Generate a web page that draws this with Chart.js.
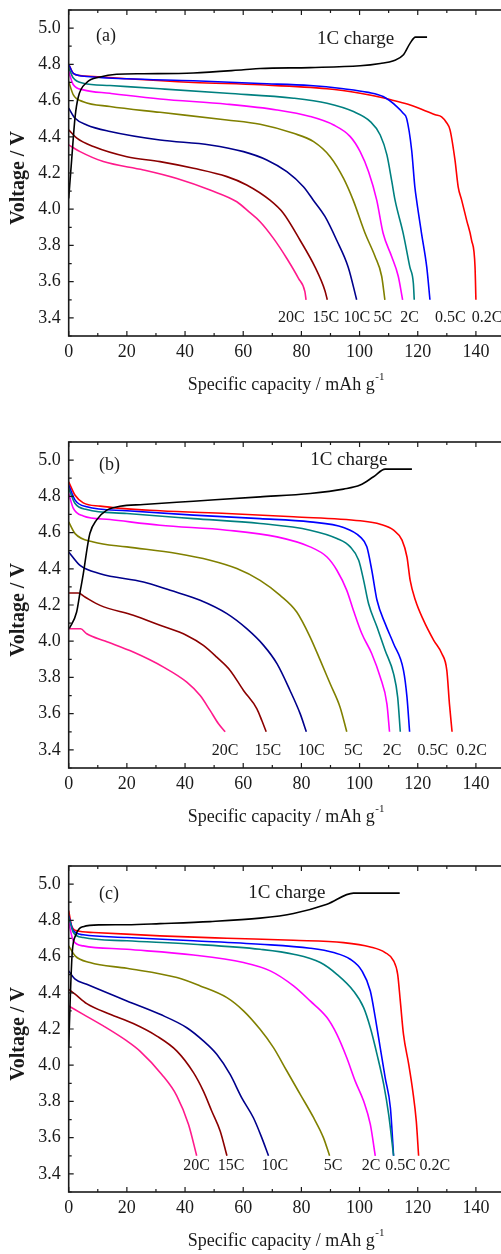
<!DOCTYPE html>
<html>
<head>
<meta charset="utf-8">
<script src="https://cdn.jsdelivr.net/npm/chart.js@4.4.1/dist/chart.umd.min.js"></script>
<style>
  html, body { margin: 0; padding: 0; background: #fff; }
  body { width: 501px; height: 1254px; overflow: hidden; position: relative; }
  .panel { position: absolute; left: 0; width: 506px; height: 426px; }
</style>
</head>
<body>
<div class="panel" style="top:0px"><canvas id="chartA" width="506" height="426"></canvas></div>
<div class="panel" style="top:432px"><canvas id="chartB" width="506" height="426"></canvas></div>
<div class="panel" style="top:856px"><canvas id="chartC" width="506" height="426"></canvas></div>
<script>
// axis ticks (minor every 10 / 0.1, labelled every 20 / 0.2)
const X_TICKS = [0, 10, 20, 30, 40, 50, 60, 70, 80, 90, 100, 110, 120, 130, 140, 150];
const Y_TICKS = [3.3, 3.4, 3.5, 3.6, 3.7, 3.8, 3.9, 4.0, 4.1, 4.2, 4.3, 4.4, 4.5, 4.6, 4.7, 4.8, 4.9, 5.0, 5.1];
const RATE_LABELS = ['20C', '15C', '10C', '5C', '2C', '0.5C', '0.2C'];

// ---- (a) [capacity mAh/g, voltage V]
const aCharge = [[0,4.06],[1.0,4.27],[2.2,4.51],[3.3,4.62],[6.2,4.70],[10.8,4.73],[16.5,4.745],[25.7,4.748],[42.9,4.752],[60.1,4.77],[65.8,4.777],[83,4.782],[100.2,4.792],[107.1,4.805],[111.7,4.82],[115.1,4.853],[117.4,4.917],[119.2,4.95],[123.2,4.95]];
const a02C = [[0,4.80],[1.6,4.75],[3.9,4.738],[8.5,4.733],[20,4.72],[42.9,4.70],[65.8,4.687],[88.8,4.665],[100.2,4.64],[108,4.615],[111.7,4.60],[117.4,4.576],[123.2,4.54],[126,4.522],[128.2,4.51],[129.8,4.48],[131.1,4.438],[132.8,4.272],[133.9,4.124],[135.1,4.05],[136.8,3.94],[138.5,3.83],[139.7,3.68],[140,3.5]];
const a05C = [[0,4.80],[1.6,4.75],[6.2,4.733],[20,4.72],[42.9,4.709],[65.8,4.694],[83,4.683],[94.5,4.665],[103,4.645],[108.1,4.622],[112.8,4.567],[115,4.53],[116.2,4.50],[117.9,4.327],[119,4.124],[119.6,4.05],[121.3,3.867],[123.1,3.68],[124.2,3.5]];
const a1C = [[0,4.78],[1.6,4.724],[5,4.696],[14.2,4.683],[31.4,4.665],[54.4,4.64],[77.3,4.613],[88.8,4.585],[97.9,4.539],[103.7,4.484],[107.1,4.41],[109.4,4.30],[111.1,4.152],[112.2,4.05],[115,3.867],[117.3,3.68],[118.5,3.59],[118.8,3.5]];
const a2C = [[0,4.76],[1.6,4.687],[5,4.659],[14.2,4.64],[31.4,4.609],[54.4,4.58],[71.6,4.548],[83,4.512],[91.1,4.465],[96.8,4.401],[100.2,4.318],[103.1,4.207],[105.9,4.05],[108.1,3.867],[111,3.74],[113.3,3.63],[114.8,3.5]];
const a5C = [[0,4.705],[1.6,4.631],[5,4.594],[14.2,4.567],[31.4,4.535],[54.4,4.493],[65.8,4.469],[77.3,4.419],[84.2,4.373],[89.9,4.29],[94.5,4.17],[97.8,4.05],[101.9,3.867],[105.3,3.74],[107.6,3.63],[108.7,3.5]];
const a10C = [[0,4.558],[2.2,4.502],[6.2,4.465],[14.2,4.429],[31.4,4.382],[48.6,4.355],[60.1,4.318],[68.1,4.272],[75,4.207],[80.7,4.124],[84.1,4.05],[88.1,3.96],[92.1,3.83],[96.1,3.68],[99,3.5]];
const a15C = [[0,4.438],[2.8,4.392],[8.5,4.346],[20,4.29],[31.4,4.263],[42.9,4.226],[54.4,4.18],[61.2,4.134],[69.2,4.05],[73.8,3.978],[79.5,3.83],[84.7,3.68],[88.1,3.55],[88.9,3.5]];
const a20C = [[0,4.355],[3.9,4.318],[11.9,4.263],[25.7,4.217],[37.2,4.17],[48.6,4.106],[57.8,4.041],[62,3.985],[65.8,3.931],[70.4,3.839],[75,3.728],[79,3.618],[81.2,3.545],[81.6,3.5]];

// ---- (b)
const bCharge = [[0.2,4.07],[2.7,4.16],[4,4.28],[5,4.37],[6.4,4.52],[7.3,4.596],[9.6,4.67],[13.1,4.724],[17.6,4.745],[25.7,4.755],[42.9,4.773],[65.8,4.797],[83,4.816],[94.5,4.84],[100.2,4.862],[104.8,4.908],[108.8,4.95],[118,4.95]];
const b02C = [[0,4.88],[2.2,4.806],[5,4.764],[10.8,4.746],[31.4,4.72],[54.4,4.705],[77.3,4.687],[100.2,4.665],[107.1,4.646],[111.7,4.613],[114.6,4.558],[116.3,4.465],[117.4,4.336],[119.2,4.226],[122,4.115],[125.5,4.005],[128.3,3.931],[130,3.839],[130.9,3.654],[131.8,3.5]];
const b05C = [[0,4.862],[2.2,4.779],[6.2,4.742],[20,4.72],[42.9,4.696],[65.8,4.677],[83,4.659],[94.5,4.628],[100.2,4.576],[102.5,4.521],[104.2,4.392],[106,4.226],[108.8,4.097],[111.7,3.986],[115.1,3.839],[116.3,3.691],[117.2,3.5]];
const b1C = [[0,4.843],[2.2,4.76],[6.2,4.727],[20,4.705],[42.9,4.677],[65.8,4.65],[83,4.613],[92.2,4.567],[96.8,4.521],[99.7,4.447],[101.4,4.336],[103.1,4.207],[106,4.078],[108.8,3.949],[111.7,3.82],[113.1,3.691],[114,3.5]];
const b2C = [[0,4.816],[1.6,4.733],[5,4.692],[14.2,4.672],[31.4,4.64],[54.4,4.613],[71.6,4.576],[83,4.521],[88.8,4.465],[92.2,4.392],[95.6,4.281],[97.9,4.17],[100.8,4.041],[104.2,3.931],[107.1,3.802],[109.4,3.654],[110.3,3.5]];
const b5C = [[0,4.659],[2.2,4.594],[8.5,4.548],[20,4.521],[37.2,4.484],[48.6,4.447],[57.8,4.401],[65.8,4.336],[72.7,4.253],[78.4,4.161],[83,4.023],[86.5,3.894],[89.9,3.765],[93.3,3.636],[95.6,3.5]];
const b10C = [[0,4.493],[3.9,4.419],[10.8,4.373],[25.7,4.327],[34.9,4.281],[45.2,4.226],[54.4,4.152],[61.2,4.069],[67,3.977],[71.6,3.876],[76.1,3.728],[79.6,3.599],[81.7,3.5]];
const b15C = [[0,4.266],[3.3,4.266],[5.6,4.244],[10.8,4.198],[22.2,4.143],[31.4,4.088],[40.6,4.032],[46.3,3.977],[50.9,3.912],[55.5,3.839],[60.1,3.728],[64.7,3.627],[66.4,3.562],[67.9,3.5]];
const b20C = [[0,4.069],[4.1,4.069],[6.2,4.041],[12.5,4.001],[22.2,3.94],[32.6,3.857],[40.6,3.774],[45.2,3.70],[48.6,3.618],[51.5,3.544],[53.8,3.5]];

// ---- (c)
const cCharge = [[0,4.1],[0.6,4.4],[1.2,4.62],[2.5,4.72],[5,4.765],[10.8,4.775],[20,4.776],[31.4,4.782],[48.6,4.793],[65.8,4.812],[77.3,4.838],[88.8,4.889],[97.9,4.95],[113.8,4.95]];
const c02C = [[0,4.853],[1,4.77],[2.8,4.742],[8.5,4.733],[31.4,4.714],[54.4,4.701],[77.3,4.69],[94.5,4.677],[103.7,4.653],[108.8,4.622],[111.7,4.576],[113.1,4.502],[114,4.355],[115.1,4.17],[116.9,4.005],[118.3,3.857],[119.5,3.691],[120.3,3.5]];
const c05C = [[0,4.825],[1.6,4.742],[5,4.72],[20,4.705],[42.9,4.687],[65.8,4.668],[83,4.646],[91.1,4.622],[96.8,4.585],[100.8,4.521],[103.7,4.41],[105.4,4.263],[107.1,4.097],[108.8,3.931],[110.6,3.765],[111.7,3.5]];
const c1C = [[0,4.816],[1.6,4.733],[5,4.705],[20,4.687],[42.9,4.668],[65.8,4.64],[77.3,4.613],[86.5,4.567],[92.2,4.502],[97.9,4.41],[101.4,4.318],[103.7,4.207],[106,4.06],[108.3,3.894],[110,3.728],[111.7,3.5]];
const c2C = [[0,4.788],[1.6,4.687],[5,4.659],[20,4.64],[42.9,4.609],[60.1,4.567],[69.3,4.521],[77.3,4.438],[83,4.355],[88.8,4.263],[92.2,4.17],[95.6,4.041],[98.5,3.912],[101.4,3.802],[103.7,3.673],[105.4,3.5]];
const c5C = [[0,4.659],[2.2,4.604],[7.3,4.567],[20,4.535],[37.2,4.484],[45.2,4.438],[54.4,4.373],[60.1,4.30],[65.8,4.198],[70.4,4.097],[75,3.968],[79.6,3.839],[84.2,3.71],[87.6,3.599],[89.7,3.5]];
const c10C = [[0,4.521],[2.2,4.475],[6.2,4.447],[20,4.355],[31.4,4.281],[40.6,4.207],[46.3,4.134],[50.9,4.06],[55.5,3.949],[59.5,3.82],[63.5,3.71],[66.4,3.599],[68.7,3.5]];
const c15C = [[0,4.419],[2.2,4.392],[6.2,4.34],[14.2,4.281],[22.2,4.23],[30.3,4.161],[37.2,4.078],[42.9,3.959],[46.3,3.857],[49.2,3.746],[52.1,3.636],[54.4,3.5]];
const c20C = [[0,4.327],[5,4.281],[11.9,4.217],[20,4.134],[24.5,4.078],[32,3.949],[37.2,3.83],[41.2,3.673],[44,3.5]];

// where the rate names sit (capacity of each label centre), one row per panel
const rateLabelXA = [76.5, 88.4, 99.1, 108, 117.2, 131.2, 143.8];
const rateLabelXB = [53.8, 68.5, 83.4, 97.9, 111.2, 125.2, 138.5];
const rateLabelXC = [44, 55.8, 70.9, 90.9, 104, 114.1, 125.9];

const SERIF = '"Liberation Serif", "Times New Roman", serif';
const INK = '#1a1a1a';
const CURVE_STYLE = [
  { name: '1C charge', color: '#000000' },
  { name: '20C', color: '#ff1a8c' },
  { name: '15C', color: '#8b0000' },
  { name: '10C', color: '#00008b' },
  { name: '5C', color: '#808000' },
  { name: '2C', color: '#ff00ff' },
  { name: '1C', color: '#008080' },
  { name: '0.5C', color: '#0000ff' },
  { name: '0.2C', color: '#ff0000' }
];

const panels = [
  { id: 'chartA', tag: '(a)', tagAt: [96, 36], curves: [aCharge, a20C, a15C, a10C, a5C, a2C, a1C, a05C, a02C],
    chargeAt: [98.6, 4.94], rateX: rateLabelXA, rateY: 3.40 },
  { id: 'chartB', tag: '(b)', tagAt: [99, 33], curves: [bCharge, b20C, b15C, b10C, b5C, b2C, b1C, b05C, b02C],
    chargeAt: [96.3, 5.0], rateX: rateLabelXB, rateY: 3.397 },
  { id: 'chartC', tag: '(c)', tagAt: [99, 38], curves: [cCharge, c20C, c15C, c10C, c5C, c2C, c1C, c05C, c02C],
    chargeAt: [75.0, 4.95], rateX: rateLabelXC, rateY: 3.445 }
];

const isMajorY = v => Math.round(v * 10) % 2 === 0;

// frame with inward ticks, panel tag, curve names and axis titles
const decor = {
  id: 'decor',
  afterDatasetsDraw(chart, args, o) {
    const { ctx, chartArea: area, scales: { x, y } } = chart;
    ctx.save();
    ctx.strokeStyle = INK;
    ctx.lineWidth = 1.6;
    ctx.strokeRect(area.left, area.top, area.right - area.left, area.bottom - area.top);
    ctx.lineWidth = 1.2;
    ctx.beginPath();
    X_TICKS.forEach(v => {
      const px = x.getPixelForValue(v);
      const len = v % 20 === 0 ? 5 : 3;
      ctx.moveTo(px, area.bottom); ctx.lineTo(px, area.bottom - len);
      ctx.moveTo(px, area.top); ctx.lineTo(px, area.top + len);
    });
    Y_TICKS.forEach(v => {
      const py = y.getPixelForValue(v);
      const len = isMajorY(v) ? 5 : 3;
      ctx.moveTo(area.left, py); ctx.lineTo(area.left + len, py);
    });
    ctx.stroke();

    ctx.fillStyle = INK;
    ctx.textBaseline = 'middle';

    // panel tag
    ctx.font = '18px ' + SERIF;
    ctx.textAlign = 'left';
    ctx.fillText(o.tag, o.tagAt[0], o.tagAt[1]);

    // charge curve name
    ctx.font = '19px ' + SERIF;
    ctx.textAlign = 'center';
    ctx.fillText('1C charge', x.getPixelForValue(o.chargeAt[0]), y.getPixelForValue(o.chargeAt[1]));

    // discharge rate names under the curve ends
    ctx.font = '16px ' + SERIF;
    RATE_LABELS.forEach((t, i) => {
      ctx.fillText(t, x.getPixelForValue(o.rateX[i]), y.getPixelForValue(o.rateY));
    });

    // x title with superscript
    const main = 'Specific capacity / mAh g';
    const sup = '-1';
    ctx.font = '18px ' + SERIF;
    const w1 = ctx.measureText(main).width;
    ctx.font = '11px ' + SERIF;
    const w2 = ctx.measureText(sup).width;
    const cx = (area.left + area.right) / 2 - 1;
    const ty = area.bottom + 49.5;
    const start = cx - (w1 + w2) / 2;
    ctx.textAlign = 'left';
    ctx.font = '18px ' + SERIF;
    ctx.fillText(main, start, ty);
    ctx.font = '11px ' + SERIF;
    ctx.fillText(sup, start + w1 + 0.5, ty - 8);

    // y title
    ctx.translate(19, (area.top + area.bottom) / 2 + 5);
    ctx.rotate(-Math.PI / 2);
    ctx.font = 'bold 20px ' + SERIF;
    ctx.textAlign = 'center';
    ctx.fillText('Voltage / V', 0, 0);
    ctx.restore();
  }
};

panels.forEach(p => {
  const datasets = p.curves.map((pts, i) => ({
    label: CURVE_STYLE[i].name,
    data: pts.map(([cap, v]) => ({ x: cap, y: v })),
    borderColor: CURVE_STYLE[i].color,
    borderWidth: 1.6,
    pointRadius: 0,
    fill: false,
    cubicInterpolationMode: 'monotone'
  }));

  new Chart(document.getElementById(p.id), {
    type: 'line',
    data: { datasets },
    plugins: [decor],
    options: {
      responsive: false,
      animation: false,
      events: [],
      layout: { padding: { top: 10, right: 1, left: 0, bottom: 0 } },
      plugins: {
        legend: { display: false },
        tooltip: { enabled: false },
        decor: { tag: p.tag, tagAt: p.tagAt, chargeAt: p.chargeAt, rateX: p.rateX, rateY: p.rateY }
      },
      scales: {
        x: {
          type: 'linear',
          min: 0,
          max: 150,
          afterBuildTicks: s => { s.ticks = X_TICKS.map(v => ({ value: v })); },
          afterFit: s => { s.height = 90; s.paddingLeft = 0; s.paddingRight = 0; },
          grid: { display: false, drawTicks: false },
          border: { display: false },
          ticks: {
            autoSkip: false,
            maxRotation: 0,
            padding: 5,
            color: INK,
            font: { family: SERIF, size: 18 },
            callback: v => (v % 20 === 0 && v <= 140 ? String(v) : '')
          }
        },
        y: {
          min: 3.3,
          max: 5.1,
          afterBuildTicks: s => { s.ticks = Y_TICKS.map(v => ({ value: v })); },
          afterFit: s => { s.width = 68.7; s.paddingTop = 0; s.paddingBottom = 0; },
          grid: { display: false, drawTicks: false },
          border: { display: false },
          ticks: {
            autoSkip: false,
            padding: 8,
            color: INK,
            font: { family: SERIF, size: 18 },
            callback: v => (isMajorY(v) ? v.toFixed(1) : '')
          }
        }
      }
    }
  });
});
</script>
</body>
</html>
